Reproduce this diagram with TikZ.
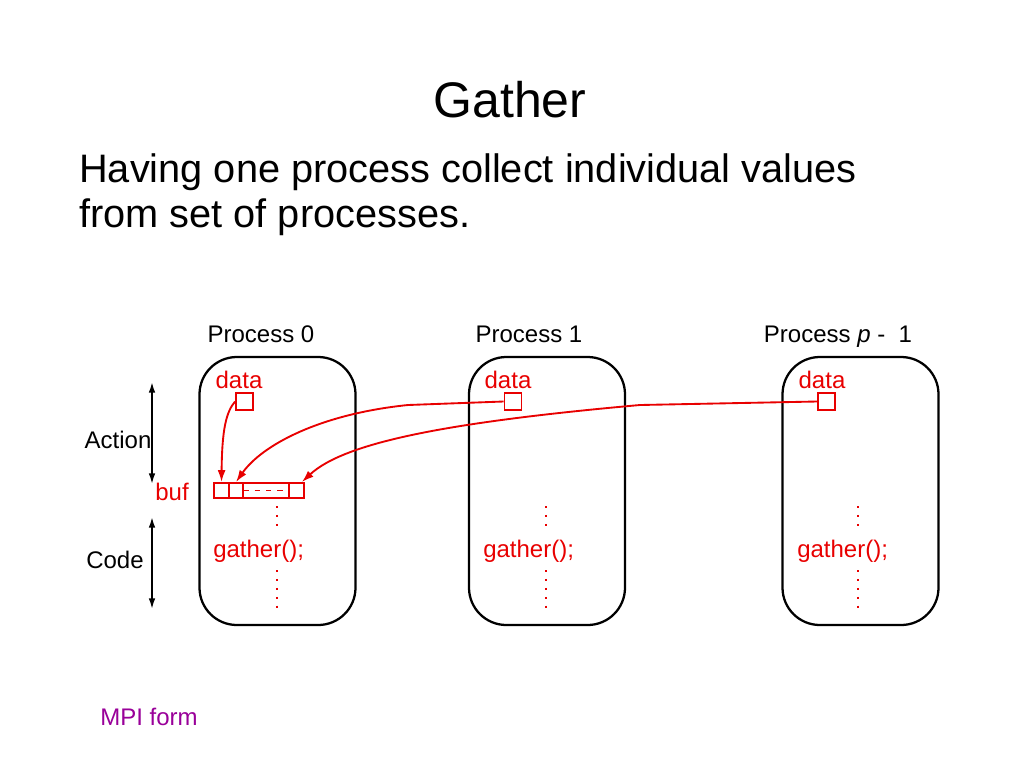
\documentclass[tikz,border=0pt]{standalone}
\usepackage{fontspec}
\setmainfont{Liberation Sans}
\usetikzlibrary{arrows.meta}
\definecolor{mred}{RGB}{232,0,0}
\definecolor{mpurple}{RGB}{153,0,153}
\tikzset{
  procbox/.style={draw=black, line width=1.7pt, rounded corners=28pt, minimum width=117pt, minimum height=201pt, inner sep=0pt},
  sq/.style={draw=mred, line width=1.4pt, minimum width=12.75pt, minimum height=12.75pt, inner sep=0pt},
  cell/.style={draw=mred, line width=1.4pt, minimum height=11.25pt, inner sep=0pt},
  lbl/.style={font=\fontsize{18}{21}\selectfont, anchor=base, inner sep=0pt},
  rlbl/.style={lbl, text=mred},
  rarrow/.style={draw=mred, line width=1.4pt, -{Latex[length=9pt,width=6pt]}},
  dotline/.style={draw=mred, line width=1.6pt, dash pattern=on 1.5pt off 5.2pt},
  dblarrow/.style={draw=black, line width=1.3pt, {Latex[length=8pt,width=5pt]}-{Latex[length=8pt,width=5pt]}}
}
\begin{document}
\begin{tikzpicture}[x=0.75pt,y=-0.75pt]
\useasboundingbox (0,0) rectangle (1024,768);

% title and text
\node[font=\fontsize{37.5}{44}\selectfont, anchor=base, inner sep=0pt] (title) at (510,117) {Gather};
\node[font=\fontsize{29.8}{34}\selectfont, anchor=base west, inner sep=0pt] (sub1) at (79,182) {Having one process collect individual values};
\node[font=\fontsize{29.8}{34}\selectfont, anchor=base west, inner sep=0pt] (sub2) at (79,227) {from set of processes.};

% process labels
\node[lbl] (l0) at (261,342) {Process 0};
\node[lbl] (l1) at (529,342) {Process 1};
\node[lbl] (lp) at (838,342) {Process \textit{p} -\ \ 1};

% process boxes
\node[procbox] (b0) at (277.5,491) {};
\node[procbox] (b1) at (547,491) {};
\node[procbox] (bp) at (860.5,491) {};

% data labels and squares
\node[rlbl] (t0) at (239,388) {data};
\node[rlbl] (t1) at (508,388) {data};
\node[rlbl] (tp) at (822,388) {data};
\node[sq] (d0) at (244.5,401.5) {};
\node[sq] (d1) at (513,401.5) {};
\node[sq] (dp) at (826.5,401.5) {};

% buffer
\node[cell, minimum width=11.25pt] (c1) at (221.5,490.5) {};
\node[cell, minimum width=10.5pt] (c2) at (236,490.5) {};
\node[cell, minimum width=34.5pt] (cm) at (266,490.5) {};
\node[cell, minimum width=11.25pt] (cN) at (296.5,490.5) {};
\draw[draw=mred, line width=1.4pt, dash pattern=on 4pt off 4.5pt, dash phase=-1pt] (cm.west) -- (cm.east);
\node[rlbl] (buf) at (172,500) {buf};

% gather calls
\node[rlbl, anchor=base west] (g0) at (213,557) {gather();};
\node[rlbl, anchor=base west] (g1) at (483,557) {gather();};
\node[rlbl, anchor=base west] (gp) at (797,557) {gather();};

% dotted lines
\coordinate (o0a) at (277,506); \coordinate (o0b) at (277,532);
\coordinate (o0c) at (277,570); \coordinate (o0d) at (277,614);
\coordinate (o1a) at (546,506); \coordinate (o1b) at (546,532);
\coordinate (o1c) at (546,570); \coordinate (o1d) at (546,614);
\coordinate (opa) at (858,506); \coordinate (opb) at (858,532);
\coordinate (opc) at (858,570); \coordinate (opd) at (858,614);
\draw[dotline] (o0a) -- (o0b); \draw[dotline] (o0c) -- (o0d);
\draw[dotline] (o1a) -- (o1b); \draw[dotline] (o1c) -- (o1d);
\draw[dotline] (opa) -- (opb); \draw[dotline] (opc) -- (opd);

% red arrows
\coordinate (k1) at (408,405);
\coordinate (kp) at (640,405);
\draw[rarrow] (d0.west) .. controls (226,412) and (222,430) .. (c1.north);
\draw[rarrow] (d1.west) -- (k1) .. controls (320,414) and (262,445) .. (c2.north);
\draw[rarrow] (dp.west) -- (kp) .. controls (450,422) and (345,442) .. ([xshift=4pt]cN.north);

% left side arrows
\node[lbl] (act) at (118,448) {Action};
\node[lbl] (code) at (115,568) {Code};
\coordinate (a1) at (152,382); \coordinate (a2) at (152,484);
\coordinate (a3) at (152,517); \coordinate (a4) at (152,609);
\draw[dblarrow] (a1) -- (a2);
\draw[dblarrow] (a3) -- (a4);

% footer
\node[lbl, anchor=base west, text=mpurple] (mpi) at (100,725) {MPI form};
\end{tikzpicture}
\end{document}
